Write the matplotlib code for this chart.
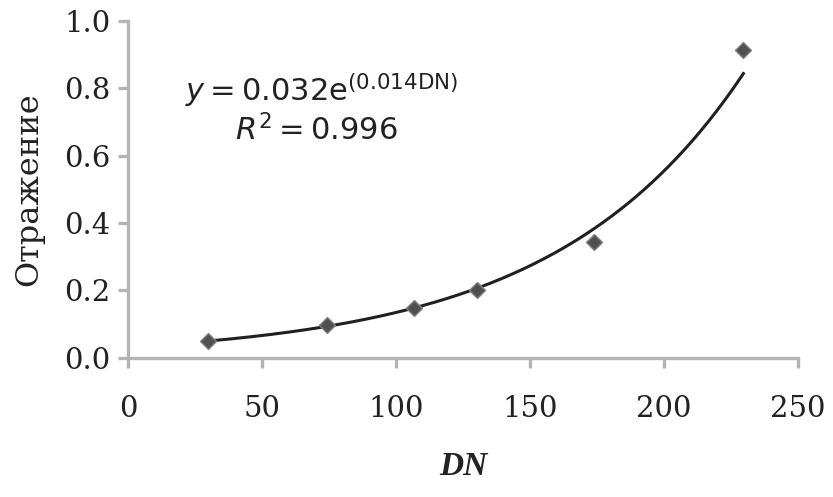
import numpy as np
import matplotlib
matplotlib.use("Agg")
import matplotlib.pyplot as plt

# measured reflectance against digital number
dn = [29.6, 74.0, 106.7, 130.0, 173.7, 229.6]
reflectance = [0.050, 0.098, 0.148, 0.200, 0.344, 0.914]

x_ticks = [0, 50, 100, 150, 200, 250]
y_ticks = [0.0, 0.2, 0.4, 0.6, 0.8, 1.0]
x_tick_labels = ["0", "50", "100", "150", "200", "250"]
y_tick_labels = ["0.0", "0.2", "0.4", "0.6", "0.8", "1.0"]

equation_label = r"$y = 0.032\mathrm{e}^{\mathrm{(0.014DN)}}$"
r2_label = r"$R^2 = \mathrm{0.996}$"

# exponential trend line (log-linear least squares)
b, ln_a = np.polyfit(dn, np.log(reflectance), 1)
xs = np.linspace(min(dn), max(dn), 200)
ys = np.exp(ln_a) * np.exp(b * xs)

plt.rcParams["mathtext.fontset"] = "dejavusans"

fig = plt.figure(figsize=(8.33, 4.97), dpi=100)
ax = fig.add_axes([0.154, 0.280, 0.804, 0.678])

ax.plot(xs, ys, color="#202020", lw=2.2, zorder=2)
ax.plot(dn, reflectance, linestyle="none", marker="D", markersize=8,
        color="#505050", markeredgecolor="#808080", markeredgewidth=1.0, zorder=3)

ax.set_xlim(0, 250)
ax.set_ylim(0, 1.0)
ax.set_xticks(x_ticks)
ax.set_xticklabels(x_tick_labels)
ax.set_yticks(y_ticks)
ax.set_yticklabels(y_tick_labels)

for side in ["top", "right"]:
    ax.spines[side].set_visible(False)
for side in ["left", "bottom"]:
    ax.spines[side].set_color("#b4b4b4")
    ax.spines[side].set_linewidth(2.4)

ax.tick_params(axis="both", direction="out", color="#b4b4b4", width=2.4,
               length=7, labelcolor="#222222")
ax.tick_params(axis="y", pad=6)
ax.tick_params(axis="x", pad=20)
for lbl in ax.get_xticklabels() + ax.get_yticklabels():
    lbl.set_fontfamily("DejaVu Serif")
    lbl.set_fontsize(21)

ax.set_ylabel("Отражение", fontfamily="DejaVu Serif", fontsize=23,
              color="#222222", labelpad=14)
ax.set_xlabel("DN", fontfamily="Liberation Serif", fontweight="bold",
              fontstyle="italic", fontsize=24, color="#222222", labelpad=20)

ax.text(21, 0.795, equation_label, fontsize=22, color="#222222",
        ha="left", va="center")
ax.text(40, 0.677, r2_label, fontsize=22, color="#222222",
        ha="left", va="center")

fig.savefig("out.png", dpi=100)
